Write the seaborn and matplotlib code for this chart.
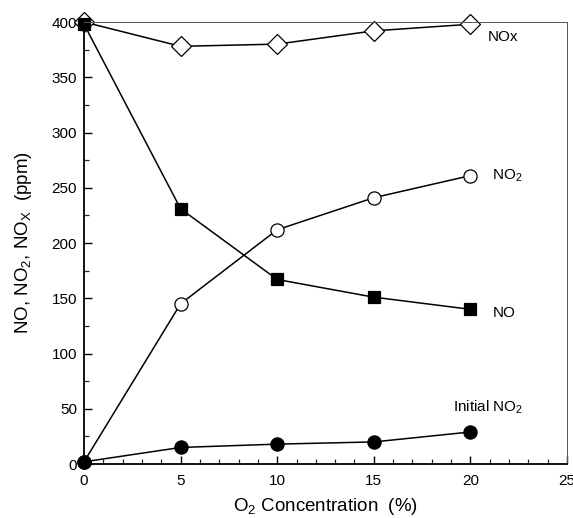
import matplotlib
matplotlib.use("Agg")
import matplotlib.pyplot as plt
import seaborn as sns
import pandas as pd
from matplotlib.ticker import MultipleLocator

o2 = [0, 5, 10, 15, 20]
nox = [400, 378, 380, 392, 398]
no = [398, 231, 167, 151, 140]
no2 = [2, 145, 212, 241, 261]
init_no2 = [2, 15, 18, 20, 29]

sns.set_style("ticks")
plt.rcParams['font.family'] = ['Liberation Sans', 'DejaVu Sans']
plt.rcParams['mathtext.fontset'] = 'custom'
plt.rcParams['mathtext.rm'] = 'Liberation Sans'
plt.rcParams['mathtext.it'] = 'Liberation Sans'
plt.rcParams['text.color'] = 'black'
plt.rcParams['axes.labelcolor'] = 'black'

fig = plt.figure(figsize=(5.73, 5.18), dpi=100)
ax = fig.add_axes([0.1466, 0.1042, 0.8429, 0.8533])

series = [
    (nox, 'D', 'white', 10),
    (no, 's', 'black', 8),
    (no2, 'o', 'white', 9.5),
    (init_no2, 'o', 'black', 9.5),
]
for vals, mk, fc, ms in series:
    df = pd.DataFrame({'x': o2, 'y': vals})
    sns.lineplot(data=df, x='x', y='y', ax=ax, color='black', lw=1.1,
                 marker=mk, markersize=ms, markerfacecolor=fc,
                 markeredgecolor='black', markeredgewidth=0.9, clip_on=False)

ax.set_xlim(0, 25)
ax.set_ylim(0, 400)
ax.xaxis.set_major_locator(MultipleLocator(5))
ax.xaxis.set_minor_locator(MultipleLocator(1))
ax.yaxis.set_major_locator(MultipleLocator(50))
ax.yaxis.set_minor_locator(MultipleLocator(25))
ax.tick_params(which='major', direction='in', length=6, width=1, labelsize=11, colors='black')
ax.tick_params(axis='y', which='major', pad=5)
ax.tick_params(axis='x', which='major', pad=7)
ax.tick_params(which='minor', direction='in', length=3.5, width=0.9)
for s in ['left', 'bottom']:
    ax.spines[s].set_linewidth(1.3)
    ax.spines[s].set_color('black')
for s in ['top', 'right']:
    ax.spines[s].set_linewidth(0.7)
    ax.spines[s].set_color('#555555')

ax.set_xlabel('O$_2$ Concentration  (%)', fontsize=13.5, labelpad=6)
ax.set_ylabel('NO, NO$_2$, NO$_X$  (ppm)', fontsize=13.5, labelpad=13)

kw = dict(fontsize=11, va='center', ha='left', color='black')
ax.annotate('NOx', xy=(20.9, 386), **kw)
ax.annotate('NO$_2$', xy=(21.1, 261), **kw)
ax.annotate('NO', xy=(21.15, 137), **kw)
ax.annotate('Initial NO$_2$', xy=(19.1, 51), **kw)

fig.savefig('out.png', dpi=100)
